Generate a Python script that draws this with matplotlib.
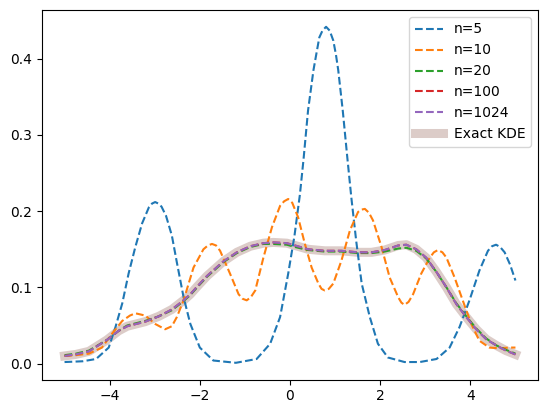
import matplotlib
matplotlib.use('Agg')
import matplotlib.pyplot as plt

# values
n5_x = [-5.0, -4.6, -4.3, -4.02, -3.87, -3.72, -3.58, -3.43, -3.28, -3.13, -3.06, -2.99, -2.92,
        -2.85, -2.75, -2.62, -2.51, -2.36, -2.21, -2.0, -1.7, -1.2, -0.74, -0.44, -0.22, -0.04,
        0.1, 0.22, 0.3, 0.4, 0.52, 0.58, 0.65, 0.72, 0.8, 0.88, 0.96, 1.02, 1.07, 1.17, 1.27,
        1.36, 1.47, 1.59, 1.77, 1.95, 2.17, 2.54, 2.88, 3.25, 3.54, 3.76, 3.98, 4.2, 4.39, 4.48,
        4.57, 4.66, 4.76, 4.88, 5.0]
n5_y = [0.002, 0.003, 0.006, 0.021, 0.048, 0.079, 0.118, 0.153, 0.184, 0.205, 0.210, 0.212, 0.210,
        0.206, 0.194, 0.168, 0.133, 0.087, 0.052, 0.021, 0.004, 0.001, 0.006, 0.026, 0.061, 0.118,
        0.168, 0.222, 0.268, 0.332, 0.385, 0.405, 0.428, 0.437, 0.442, 0.437, 0.424, 0.405, 0.385, 0.332, 0.271,
        0.218, 0.160, 0.105, 0.061, 0.026, 0.008, 0.002, 0.002, 0.006, 0.021, 0.048, 0.083, 0.122, 0.148, 0.154,
        0.156, 0.153, 0.146, 0.130, 0.109]

n10_x = [-5.0, -4.75, -4.46, -4.17, -3.95, -3.72, -3.55, -3.43, -3.21, -2.99, -2.77, -2.62,
         -2.51, -2.36, -2.14, -1.92, -1.82, -1.73, -1.64, -1.55, -1.33, -1.14, -1.05, -0.96, -0.87,
         -0.77, -0.59, -0.4, -0.22, -0.13, -0.04, 0.05, 0.18, 0.33, 0.48, 0.63, 0.7, 0.77, 0.86,
         0.96, 1.14, 1.33, 1.51, 1.58, 1.66, 1.75, 1.84, 2.03, 2.21, 2.4, 2.47, 2.54, 2.63, 2.73,
         2.91, 3.1, 3.19, 3.28, 3.38, 3.47, 3.65, 3.83, 4.02, 4.2, 4.42, 4.65, 4.87, 5.0]
n10_y = [0.010, 0.011, 0.013, 0.021, 0.039, 0.056, 0.063, 0.066, 0.063, 0.052, 0.045, 0.049,
         0.061, 0.083, 0.126, 0.150, 0.155, 0.157, 0.155, 0.148, 0.118, 0.091, 0.085, 0.083, 0.087,
         0.096, 0.139, 0.179, 0.207, 0.213, 0.216, 0.211, 0.192, 0.157, 0.126, 0.105, 0.098, 0.096, 0.098,
         0.105, 0.135, 0.175, 0.199, 0.202, 0.203, 0.198, 0.188, 0.153, 0.113, 0.087, 0.080, 0.077, 0.081, 0.091,
         0.118, 0.139, 0.146, 0.149, 0.146, 0.139, 0.113, 0.083, 0.052, 0.030, 0.021, 0.020, 0.021, 0.021]

kde_x = [-5.0, -4.75, -4.46, -4.06, -3.8, -3.61, -3.21, -2.91, -2.62, -2.36, -2.21, -2.06,
         -1.84, -1.48, -1.18, -0.88, -0.59, -0.37, -0.07, 0.11, 0.4, 0.77, 1.14, 1.51, 1.81,
         2.1, 2.4, 2.58, 2.8, 3.02, 3.25, 3.47, 3.69, 3.91, 4.13, 4.35, 4.57, 4.79, 5.0]
exact_y = [0.010, 0.012, 0.016, 0.031, 0.043, 0.049, 0.055, 0.062, 0.071, 0.083, 0.091, 0.101,
           0.115, 0.134, 0.146, 0.154, 0.158, 0.159, 0.158, 0.155, 0.150, 0.148, 0.148, 0.146, 0.146,
           0.149, 0.155, 0.156, 0.150, 0.139, 0.120, 0.100, 0.078, 0.061, 0.045, 0.032, 0.024, 0.017, 0.012]
n20_y = [0.011, 0.013, 0.017, 0.031, 0.043, 0.050, 0.056, 0.062, 0.070, 0.082, 0.090, 0.100,
         0.114, 0.133, 0.145, 0.153, 0.157, 0.157, 0.156, 0.153, 0.149, 0.147, 0.147, 0.145, 0.145,
         0.147, 0.151, 0.152, 0.148, 0.138, 0.120, 0.100, 0.079, 0.062, 0.046, 0.033, 0.024, 0.018, 0.013]
n100_y = [0.010, 0.012, 0.016, 0.031, 0.043, 0.049, 0.055, 0.062, 0.071, 0.083, 0.091, 0.101,
          0.115, 0.134, 0.146, 0.154, 0.158, 0.159, 0.158, 0.155, 0.150, 0.148, 0.148, 0.146, 0.146,
          0.149, 0.155, 0.156, 0.150, 0.139, 0.120, 0.100, 0.078, 0.061, 0.045, 0.032, 0.024, 0.017, 0.012]
n1024_y = [0.010, 0.012, 0.016, 0.031, 0.043, 0.049, 0.055, 0.062, 0.071, 0.083, 0.091, 0.101,
           0.115, 0.134, 0.146, 0.154, 0.158, 0.159, 0.158, 0.155, 0.150, 0.148, 0.148, 0.146, 0.146,
           0.149, 0.155, 0.156, 0.150, 0.139, 0.120, 0.100, 0.078, 0.061, 0.045, 0.032, 0.024, 0.017, 0.012]

fig = plt.figure(figsize=(5.47, 4.13), dpi=100)
ax = fig.add_axes([42 / 547, 33.4 / 413, 496 / 547, 369.6 / 413])

ax.plot(n5_x, n5_y, '--', label='n=5')
ax.plot(n10_x, n10_y, '--', label='n=10')
ax.plot(kde_x, n20_y, '--', label='n=20')
ax.plot(kde_x, n100_y, '--', label='n=100')
ax.plot(kde_x, n1024_y, '--', label='n=1024')
# exact curve drawn under the dashed ones
ax.plot(kde_x, exact_y, color='C5', alpha=0.3, lw=6.5, zorder=1, label='Exact KDE')

ax.legend(loc='upper right')

fig.savefig('out.png', dpi=100)
